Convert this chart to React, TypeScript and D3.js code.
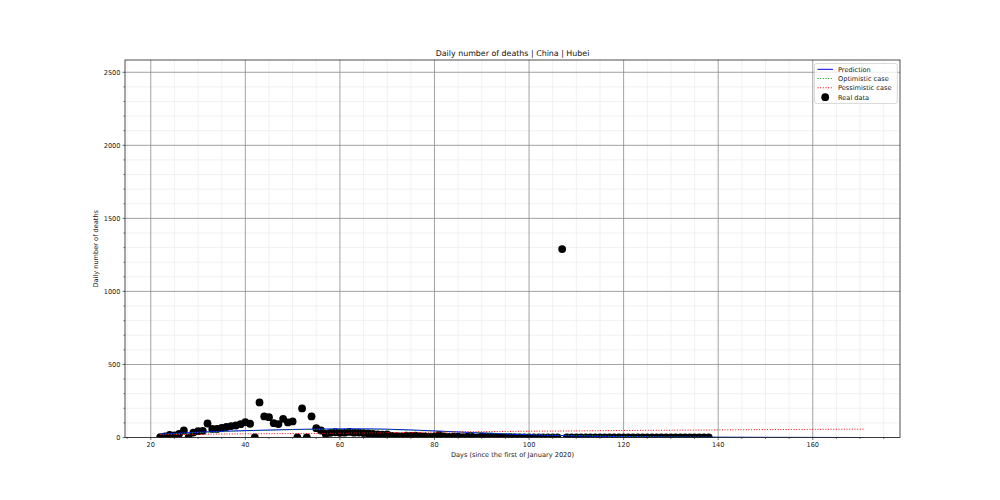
import React from "react";
import * as d3 from "d3";

// ---- data ----
const realDays: number[] = [
  22, 23, 24, 25, 26, 27, 28, 29, 30, 31, 32, 33, 34, 35, 36, 37, 38, 39, 40, 41,
  42, 43, 44, 45, 46, 47, 48, 49, 50, 51, 52, 53, 54, 55, 56, 57, 58, 59, 60, 61,
  62, 63, 64, 65, 66, 67, 68, 69, 70, 71, 72, 73, 74, 75, 76, 77, 78, 79, 80, 81,
  82, 83, 84, 85, 86, 87, 88, 89, 90, 91, 92, 93, 94, 95, 96, 97, 98, 99, 100, 101,
  102, 103, 104, 105, 106, 107, 108, 109, 110, 111, 112, 113, 114, 115, 116, 117,
  118, 119, 120, 121, 122, 123, 124, 125, 126, 127, 128, 129, 130, 131, 132, 133,
  134, 135, 136, 137, 138,
];
const realDeaths: number[] = [
  2, 8, 18, 14, 25, 48, 0, 34, 43, 46, 96, 59, 59, 66, 72, 78, 82, 91, 105, 94,
  0, 240, 144, 139, 98, 92, 128, 103, 110, 0, 199, 0, 144, 64, 48, 24, 32, 36, 32, 33,
  38, 33, 34, 30, 28, 25, 22, 20, 21, 11, 9, 7, 12, 11, 13, 10, 8, 4, 7, 18,
  7, 4, 6, 5, 3, 5, 4, 1, 7, 6, 6, 4, 3, 1, 2, 1, 0, 1, 1, 0,
  0, 1, 0, 0, 0, 1290, 0, 0, 0, 0, 0, 0, 0, 0, 0, 0,
  0, 0, 0, 0, 0, 0, 0, 0, 0, 0, 0, 0, 0, 0, 0, 0,
  0, 0, 0, 0, 0,
];

const curveDays: number[] = [22, 30, 40, 50, 60, 66, 70, 80, 90, 100, 110, 120, 130, 140, 150, 160, 171];
const predictionVals: number[] = [23, 36, 47, 55, 59, 59, 57, 45, 31, 19, 11, 6, 3, 2, 1, 0.5, 0];
const optimisticVals: number[] = [21, 33, 45, 53, 56, 56, 54, 44, 32, 22, 14, 8, 4, 2, 1, 0.5, 0];
const pessimisticVals: number[] = [20, 22, 25, 27, 29, 31, 33, 36, 40, 43, 45, 48, 50, 52, 54, 56, 57];

const xMajorTicks: number[] = [20, 40, 60, 80, 100, 120, 140, 160];
const yMajorTicks: number[] = [0, 500, 1000, 1500, 2000, 2500];

const titleText = "Daily number of deaths | China | Hubei";
const xLabelText = "Days (since the first of January 2020)";
const yLabelText = "Daily number of deaths";
const legendLabels: string[] = ["Prediction", "Optimistic case", "Pessimistic case", "Real data"];

// ---- layout ----
const W = 1000;
const H = 500;
const L = 125;
const R = 900;
const T = 60;
const B = 437.5;
const FONT = "DejaVu Sans, sans-serif";

export default function App() {
  const x = d3.scaleLinear().domain([14.55, 178.45]).range([L, R]);
  const y = d3.scaleLinear().domain([0, 2584]).range([B, T]);

  const xMinor = d3.range(15, 179, 5).filter((v) => !xMajorTicks.includes(v));
  const yMinor = d3.range(0, 2584, 100).filter((v) => !yMajorTicks.includes(v));

  const line = d3
    .line<[number, number]>()
    .x((d) => x(d[0]))
    .y((d) => y(d[1]))
    .curve(d3.curveMonotoneX);

  const pts = (vals: number[]) => curveDays.map((d, i) => [d, vals[i]] as [number, number]);

  const legendX = 814.5;
  const legendY = 63.5;
  const rowY = [69.3, 78.5, 87.8, 97.2];

  return (
    <svg
      width={W}
      height={H}
      style={{ position: "absolute", left: 0, top: 0, background: "#fff" }}
      xmlns="http://www.w3.org/2000/svg"
    >
      <rect x={0} y={0} width={W} height={H} fill="#fff" />
      <defs>
        <clipPath id="plotclip">
          <rect x={L} y={T} width={R - L} height={B - T} />
        </clipPath>
      </defs>

      {/* minor grid */}
      <g stroke="#ebebeb" strokeWidth={0.7}>
        {xMinor.map((v) => (
          <line key={"xm" + v} x1={x(v)} x2={x(v)} y1={T} y2={B} />
        ))}
        {yMinor.map((v) => (
          <line key={"ym" + v} x1={L} x2={R} y1={y(v)} y2={y(v)} />
        ))}
      </g>
      {/* major grid */}
      <g stroke="#8a8a8a" strokeWidth={0.8}>
        {xMajorTicks.map((v) => (
          <line key={"xg" + v} x1={x(v)} x2={x(v)} y1={T} y2={B} />
        ))}
        {yMajorTicks.map((v) => (
          <line key={"yg" + v} x1={L} x2={R} y1={y(v)} y2={y(v)} />
        ))}
      </g>

      {/* data */}
      <g clipPath="url(#plotclip)">
        {realDays.map((d, i) => (
          <circle key={"p" + i} cx={x(d)} cy={y(realDeaths[i])} r={3.9} fill="#000" />
        ))}
        <path d={line(pts(predictionVals)) || ""} fill="none" stroke="#0000ff" strokeWidth={1} />
        <path
          d={line(pts(optimisticVals)) || ""}
          fill="none"
          stroke="#00a000"
          strokeWidth={1}
          strokeDasharray="1,1.65"
        />
        <path
          d={line(pts(pessimisticVals)) || ""}
          fill="none"
          stroke="#ff0000"
          strokeWidth={1}
          strokeDasharray="1,1.65"
        />
      </g>

      {/* frame */}
      <rect x={L} y={T} width={R - L} height={B - T} fill="none" stroke="#222" strokeWidth={0.8} />

      {/* ticks */}
      <g stroke="#222" strokeWidth={0.7}>
        {xMajorTicks.map((v) => (
          <line key={"xt" + v} x1={x(v)} x2={x(v)} y1={B} y2={B + 2.4} />
        ))}
        {xMinor.map((v) => (
          <line key={"xtm" + v} x1={x(v)} x2={x(v)} y1={B} y2={B + 1.4} />
        ))}
        {yMajorTicks.map((v) => (
          <line key={"yt" + v} x1={L} x2={L - 2.4} y1={y(v)} y2={y(v)} />
        ))}
        {yMinor.map((v) => (
          <line key={"ytm" + v} x1={L} x2={L - 1.4} y1={y(v)} y2={y(v)} />
        ))}
      </g>
      <g fontFamily={FONT} fontSize={6.6} fill="#222">
        {xMajorTicks.map((v) => (
          <text key={"xl" + v} x={x(v)} y={B + 9.5} textAnchor="middle">
            {v}
          </text>
        ))}
        {yMajorTicks.map((v) => (
          <text key={"yl" + v} x={L - 4.5} y={y(v) + 2.4} textAnchor="end">
            {v}
          </text>
        ))}
        <text x={(L + R) / 2} y={457} textAnchor="middle">
          {xLabelText}
        </text>
        <text transform={`translate(97.5, ${(T + B) / 2}) rotate(-90)`} textAnchor="middle">
          {yLabelText}
        </text>
      </g>
      <text x={(L + R) / 2} y={55.5} textAnchor="middle" fontFamily={FONT} fontSize={7.9} fill="#111">
        {titleText}
      </text>

      {/* legend */}
      <g>
        <rect
          x={legendX}
          y={legendY}
          width={82.8}
          height={40}
          rx={2}
          fill="#fff"
          fillOpacity={0.8}
          stroke="#cccccc"
          strokeWidth={0.7}
        />
        <line x1={817.5} x2={833} y1={rowY[0]} y2={rowY[0]} stroke="#0000ff" strokeWidth={1} />
        <line x1={817.5} x2={833} y1={rowY[1]} y2={rowY[1]} stroke="#00a000" strokeWidth={1} strokeDasharray="1,1.65" />
        <line x1={817.5} x2={833} y1={rowY[2]} y2={rowY[2]} stroke="#ff0000" strokeWidth={1} strokeDasharray="1,1.65" />
        <circle cx={825.2} cy={rowY[3]} r={3.9} fill="#000" />
        <g fontFamily={FONT} fontSize={6.6} fill="#222">
          {legendLabels.map((lab, i) => (
            <text key={lab} x={838} y={rowY[i] + 2.4}>
              {lab}
            </text>
          ))}
        </g>
      </g>
    </svg>
  );
}
